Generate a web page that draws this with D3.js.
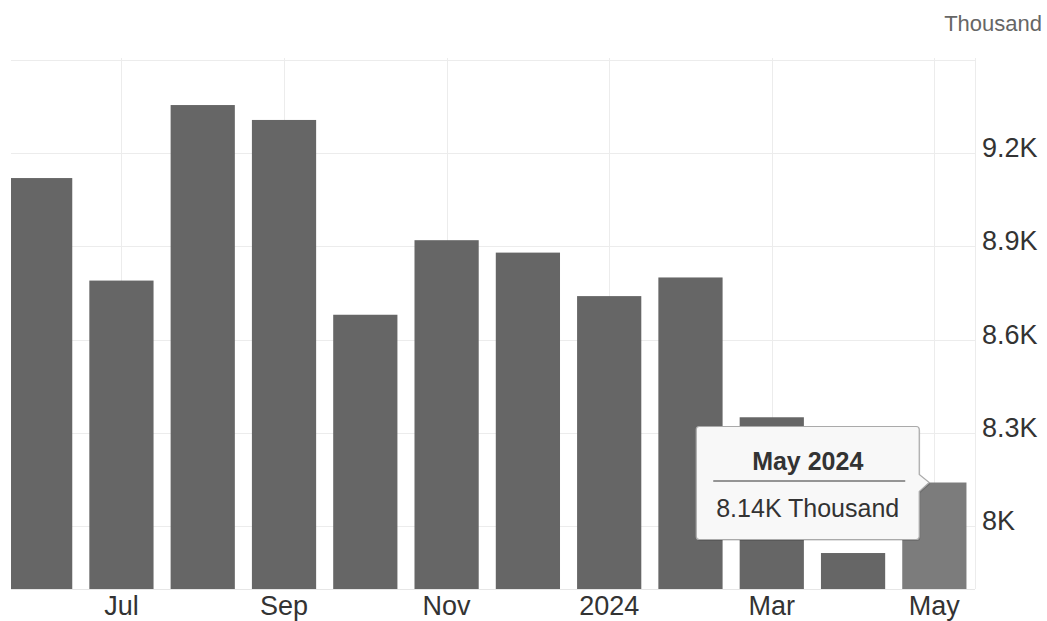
<!DOCTYPE html>
<html>
<head>
<meta charset="utf-8">
<script src="https://cdn.jsdelivr.net/npm/d3@7"></script>
<style>
  html, body { margin: 0; padding: 0; background: #fff; }
  svg { display: block; font-family: "Liberation Sans", Arial, sans-serif; }
</style>
</head>
<body>
<svg id="chart" width="1047" height="621"></svg>
<script>
const months = ["Jun 2023","Jul 2023","Aug 2023","Sep 2023","Oct 2023","Nov 2023","Dec 2023","Jan 2024","Feb 2024","Mar 2024","Apr 2024","May 2024"];
const values = [9.12, 8.79, 9.355, 9.307, 8.68, 8.92, 8.88, 8.74, 8.80, 8.35, 7.913, 8.14];
const xTickMonths = ["Jul 2023","Sep 2023","Nov 2023","Jan 2024","Mar 2024","May 2024"];
const xTickLabels = ["Jul","Sep","Nov","2024","Mar","May"];
const yTicks = [8.0, 8.3, 8.6, 8.9, 9.2, 9.5];
const yTickLabels = ["8K","8.3K","8.6K","8.9K","9.2K",""];
const unitLabel = "Thousand";
const highlight = "May 2024";
const tooltipTitle = "May 2024";
const tooltipValue = "8.14K Thousand";

const svg = d3.select("#chart");
const plotLeft = 11, plotRight = 975, plotTop = 58, plotBottom = 589;

const x = d3.scaleBand().domain(months).range([-0.5, 975]).paddingInner(0.21).paddingOuter(0.105);
const y = d3.scaleLinear().domain([8.0, 9.5]).range([526, 60]);

svg.append("defs").append("clipPath").attr("id","clip")
  .append("rect").attr("x", plotLeft).attr("y", 0).attr("width", plotRight - plotLeft).attr("height", 621);

// gridlines
const grid = svg.append("g");
grid.selectAll("line.h").data(yTicks).join("line")
  .attr("x1", plotLeft).attr("x2", plotRight)
  .attr("y1", d => Math.round(y(d)) + 0.5).attr("y2", d => Math.round(y(d)) + 0.5)
  .attr("stroke", "#ececec").attr("stroke-width", 1);
grid.selectAll("line.v").data(xTickMonths).join("line")
  .attr("x1", d => Math.round(x(d) + x.bandwidth()/2) + 0.5)
  .attr("x2", d => Math.round(x(d) + x.bandwidth()/2) + 0.5)
  .attr("y1", plotTop).attr("y2", plotBottom)
  .attr("stroke", "#ececec").attr("stroke-width", 1);
grid.append("line").attr("x1", plotRight + 0.5).attr("x2", plotRight + 0.5)
  .attr("y1", plotTop).attr("y2", plotBottom).attr("stroke", "#ececec");
grid.append("line").attr("x1", plotLeft).attr("x2", plotRight)
  .attr("y1", plotBottom + 0.5).attr("y2", plotBottom + 0.5).attr("stroke", "#e6e6e6");

// bars
const baseVal = y.invert(plotBottom);
svg.append("g").attr("clip-path", "url(#clip)")
  .selectAll("rect").data(months).join("rect")
  .attr("x", d => x(d))
  .attr("width", x.bandwidth())
  .attr("y", (d, i) => y(values[i]))
  .attr("height", (d, i) => y(baseVal) - y(values[i]))
  .attr("fill", d => d === highlight ? "#7c7c7c" : "#666666");

// y labels
svg.append("g").selectAll("text").data(yTicks).join("text")
  .attr("x", 982).attr("y", d => y(d) + 4)
  .attr("font-size", 27).attr("fill", "#333")
  .text((d, i) => yTickLabels[i]);

// x labels
svg.append("g").selectAll("text").data(xTickMonths).join("text")
  .attr("x", d => x(d) + x.bandwidth()/2).attr("y", 615)
  .attr("text-anchor", "middle")
  .attr("font-size", 27).attr("fill", "#333")
  .text((d, i) => xTickLabels[i]);

// unit label
svg.append("text").attr("x", 1042).attr("y", 31)
  .attr("text-anchor", "end").attr("font-size", 22).attr("fill", "#666")
  .text(unitLabel);

// tooltip
const hi = months.indexOf(highlight);
const tipX = x(highlight) + 27, tipY = y(values[hi]);
const bx1 = tipX - 10, bx0 = bx1 - 223, by0 = tipY - 56, by1 = by0 + 113, r = 3;
const path = d3.path();
path.moveTo(bx0 + r, by0);
path.lineTo(bx1 - r, by0);
path.quadraticCurveTo(bx1, by0, bx1, by0 + r);
path.lineTo(bx1, tipY - 8);
path.lineTo(tipX, tipY);
path.lineTo(bx1, tipY + 9);
path.lineTo(bx1, by1 - r);
path.quadraticCurveTo(bx1, by1, bx1 - r, by1);
path.lineTo(bx0 + r, by1);
path.quadraticCurveTo(bx0, by1, bx0, by1 - r);
path.lineTo(bx0, by0 + r);
path.quadraticCurveTo(bx0, by0, bx0 + r, by0);
path.closePath();
const tt = svg.append("g");
tt.append("path").attr("d", path.toString()).attr("transform", "translate(1,1.5)")
  .attr("fill", "rgba(0,0,0,0.12)");
tt.append("path").attr("d", path.toString())
  .attr("fill", "#f8f8f8").attr("stroke", "#aaaaaa").attr("stroke-width", 1.2);
const cx = (bx0 + bx1) / 2;
tt.append("text").attr("x", cx).attr("y", by0 + 43)
  .attr("text-anchor", "middle").attr("font-size", 25).attr("font-weight", "bold").attr("fill", "#333")
  .text(tooltipTitle);
tt.append("line").attr("x1", bx0 + 17).attr("x2", bx1 - 14)
  .attr("y1", by0 + 54.5).attr("y2", by0 + 54.5).attr("stroke", "#333").attr("stroke-width", 1);
tt.append("text").attr("x", cx).attr("y", by0 + 90)
  .attr("text-anchor", "middle").attr("font-size", 25).attr("fill", "#333")
  .text(tooltipValue);
</script>
</body>
</html>
